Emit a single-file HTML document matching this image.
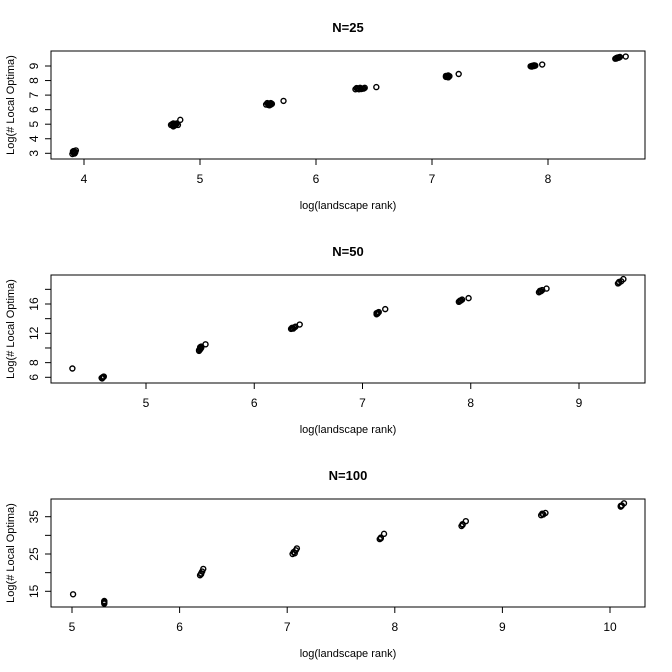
<!DOCTYPE html>
<html><head><meta charset="utf-8"><style>
body{margin:0;background:#fff}
svg{display:block;font-family:"Liberation Sans",Arial,sans-serif}
</style></head><body>
<svg id="c" width="672" height="672"></svg>
<script>
const titles = ["N=25","N=50","N=100"];
const p1x = [3.90,3.91,3.92,3.93,3.92,3.91,3.915,3.925,3.905, 4.75,4.77,4.78,4.79,4.80,4.77,4.76,4.78,4.79,4.81,4.83, 5.57,5.59,5.60,5.61,5.62,5.58,5.59,5.61,5.60,5.72, 6.34,6.36,6.38,6.40,6.42,6.37,6.35,6.39,6.41,6.52, 7.12,7.13,7.14,7.15,7.13,7.12,7.14,7.23, 7.85,7.86,7.87,7.88,7.89,7.86,7.88,7.95, 8.58,8.59,8.60,8.61,8.62,8.59,8.61,8.67];
const p1y = [2.95,3.05,3.10,3.20,3.00,3.15,2.98,3.08,3.12, 4.95,5.05,4.90,5.00,5.05,4.85,5.00,5.02,4.95,4.95,5.30, 6.35,6.40,6.30,6.45,6.40,6.45,6.32,6.35,6.42,6.60, 7.40,7.45,7.50,7.45,7.50,7.40,7.48,7.42,7.45,7.55, 8.25,8.30,8.35,8.30,8.28,8.32,8.22,8.45, 8.98,9.00,9.02,9.05,9.03,8.96,9.00,9.10, 9.50,9.55,9.58,9.60,9.62,9.52,9.57,9.65];
const p2x = [4.32, 4.59,4.60,4.61,4.60,4.595,4.605, 5.49,5.50,5.51,5.50,5.49,5.51,5.50,5.55, 6.34,6.35,6.37,6.38,6.36,6.35,6.42, 7.13,7.14,7.15,7.14,7.13,7.21, 7.89,7.90,7.92,7.90,7.91,7.98, 8.63,8.64,8.66,8.64,8.65,8.70, 9.36,9.37,9.39,9.37,9.41];
const p2y = [7.2, 5.9,6.0,6.1,5.95,5.85,6.05, 9.6,9.9,10.2,9.8,9.7,10.0,10.1,10.5, 12.6,12.7,12.8,12.9,12.65,12.75,13.2, 14.6,14.8,14.9,14.7,14.75,15.3, 16.3,16.45,16.6,16.4,16.5,16.8, 17.6,17.8,17.9,17.7,17.75,18.1, 18.8,19.0,19.1,18.9,19.4];
const p3x = [5.01, 5.30,5.30,5.30,5.30, 6.19,6.20,6.21,6.22,6.20, 7.05,7.06,7.08,7.09,7.07, 7.86,7.87,7.90,7.87, 8.62,8.63,8.66,8.63, 9.36,9.37,9.40,9.38, 10.10,10.11,10.13,10.10];
const p3y = [14.2, 11.7,12.0,12.4,12.2, 19.3,19.8,20.3,21.0,19.6, 25.0,25.5,26.0,26.5,25.2, 29.0,29.4,30.4,29.2, 32.5,33.0,33.8,32.8, 35.4,35.8,36.0,35.6, 37.7,38.0,38.6,37.9];
const xTicks = [[4,5,6,7,8],[5,6,7,8,9],[5,6,7,8,9,10]];
const yTicks = [[3,4,5,6,7,8,9],[6,8,10,12,14,16,18],[15,20,25,30,35]];
const yLabels = [["3","4","5","6","7","8","9"],["6","8","","12","","16",""],["15","","25","","35"]];
const panels = [
 {px:p1x,py:p1y,xc:[4,84,8,548],yc:[3,153.3,9,66],top:51,bot:159,ty:27,xl:205},
 {px:p2x,py:p2y,xc:[5,146,9,579],yc:[6,377.3,16,304],top:275,bot:383,ty:251,xl:429},
 {px:p3x,py:p3y,xc:[5,72,10,610],yc:[15,591.3,35,516.7],top:499,bot:607,ty:475,xl:653}
];
const svg=document.getElementById('c');const NS='http://www.w3.org/2000/svg';
function mk(t,a,p){const e=document.createElementNS(NS,t);for(const k in a)e.setAttribute(k,a[k]);(p||svg).appendChild(e);return e;}
panels.forEach((P,i)=>{
 const g=mk('g',{});
 
 
 const sx=v=>P.xc[1]+(v-P.xc[0])*(P.xc[3]-P.xc[1])/(P.xc[2]-P.xc[0]);
 const sy=v=>P.yc[1]+(v-P.yc[0])*(P.yc[3]-P.yc[1])/(P.yc[2]-P.yc[0]);
 const t=mk('text',{x:348,y:P.ty+5,'text-anchor':'middle','font-size':13,'font-weight':'bold'},g);t.textContent=titles[i];
 
 
 const b=mk('rect',{x:51,y:P.top,width:594,height:P.bot-P.top,fill:'none',stroke:'#000','stroke-width':1},g);
 
 
 xTicks[i].forEach(v=>{const x=sx(v);mk('line',{x1:x,x2:x,y1:P.bot,y2:P.bot+6,stroke:'#000'},g);
  const l=mk('text',{x:x,y:P.bot+24,'text-anchor':'middle','font-size':12},g);l.textContent=v;
  
  });
 yTicks[i].forEach((v,j)=>{const y=sy(v);mk('line',{x1:45,x2:51,y1:y,y2:y,stroke:'#000'},g);
  if(yLabels[i][j]){const l=mk('text',{x:38,y:y,'text-anchor':'middle','font-size':12,transform:`rotate(-90 38 ${y})`},g);l.textContent=yLabels[i][j];
  
  }});
 const xl=mk('text',{x:348,y:P.xl+4,'text-anchor':'middle','font-size':11},g);xl.textContent='log(landscape rank)';
 
 
 const cy=(P.top+P.bot)/2;
 const yl=mk('text',{x:14,y:cy,'text-anchor':'middle','font-size':11,transform:`rotate(-90 14 ${cy})`},g);yl.textContent='Log(# Local Optima)';
 
 
 P.px.forEach((v,k)=>{const c=mk('circle',{cx:sx(v),cy:sy(P.py[k]),r:2.5,fill:'none',stroke:'#000','stroke-width':1.4},g);
  
  });
});
</script>
</body></html>
